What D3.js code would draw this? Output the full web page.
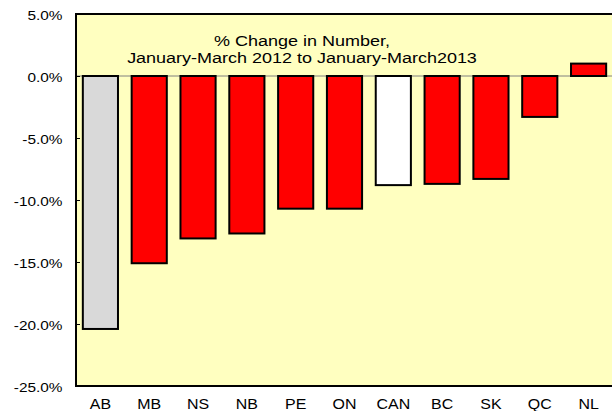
<!DOCTYPE html>
<html>
<head>
<meta charset="utf-8">
<script src="https://cdn.jsdelivr.net/npm/d3@7"></script>
<style>
  html, body { margin: 0; padding: 0; background: #fff; }
  svg { display: block; font-family: "Liberation Sans", Arial, sans-serif; }
</style>
</head>
<body>
<svg id="chart" width="612" height="411"></svg>
<script>
// provinces, ordered as in the chart
const categories = ['AB', 'MB', 'NS', 'NB', 'PE', 'ON', 'CAN', 'BC', 'SK', 'QC', 'NL'];
// % change in number, Jan-Mar 2012 to Jan-Mar 2013
const values = [-20.4, -15.1, -13.1, -12.7, -10.7, -10.7, -8.8, -8.7, -8.3, -3.3, 1.0];
const yTicks = [5, 0, -5, -10, -15, -20, -25];
const titleLines = ['% Change in Number,', 'January-March 2012 to January-March2013'];

const svg = d3.select('#chart');
const plotLeft = 76, plotTop = 14, plotRight = 613, plotBottom = 386;
// the original text is a bit wider than Liberation Sans
const stretch = 1.14;

const x = d3.scaleBand()
  .domain(categories)
  .range([plotLeft, plotRight])
  .paddingInner(0.28)
  .paddingOuter(0.14);

const y = d3.scaleLinear()
  .domain([-25, 5])
  .range([plotBottom, plotTop]);

function barFill(d) {
  if (d === 'AB') return '#d9d9d9';
  if (d === 'CAN') return '#ffffff';
  return '#ff0000';
}

// plain hyphen minus, like the original
const pct = (d) => d.toFixed(1) + '%';

// plot background
svg.append('rect')
  .attr('x', plotLeft).attr('y', plotTop)
  .attr('width', plotRight - plotLeft).attr('height', plotBottom - plotTop)
  .attr('fill', '#ffffc0');

// zero line
svg.append('line')
  .attr('x1', plotLeft).attr('x2', plotRight)
  .attr('y1', y(0)).attr('y2', y(0))
  .attr('stroke', '#808080').attr('stroke-width', 1);

// title inside the plot
svg.append('g')
  .attr('transform', 'translate(302,0) scale(1.2,1)')
  .append('text')
  .attr('text-anchor', 'middle')
  .attr('font-size', 15)
  .attr('fill', '#000')
  .selectAll('tspan')
  .data(titleLines)
  .enter()
  .append('tspan')
  .attr('x', 0)
  .attr('y', (d, i) => 45.7 + i * 17.6)
  .text((d) => d);

// bars
svg.append('g')
  .selectAll('rect')
  .data(categories)
  .enter()
  .append('rect')
  .attr('x', (d) => x(d))
  .attr('width', x.bandwidth())
  .attr('y', (d, i) => y(Math.max(0, values[i])))
  .attr('height', (d, i) => Math.abs(y(values[i]) - y(0)))
  .attr('fill', barFill)
  .attr('stroke', '#000')
  .attr('stroke-width', 2);

// y axis, ticks pointing inward
const yAxis = svg.append('g')
  .attr('transform', `translate(${plotLeft},0)`)
  .call(d3.axisRight(y).tickValues(yTicks).tickSize(4).tickFormat(() => ''));
yAxis.select('.domain').remove();
yAxis.selectAll('line').attr('stroke', '#000');

svg.append('g')
  .selectAll('text')
  .data(yTicks)
  .enter()
  .append('text')
  .attr('transform', (d) => `translate(62.5,${y(d) + 5.8}) scale(${stretch},1)`)
  .attr('text-anchor', 'end')
  .attr('font-size', 13.5)
  .text(pct);

// x labels
const xAxis = svg.append('g')
  .attr('transform', `translate(0,${plotBottom})`)
  .call(d3.axisBottom(x).tickSize(0));
xAxis.select('.domain').remove();
xAxis.selectAll('text')
  .attr('y', 23)
  .attr('dy', 0)
  .attr('transform', `scale(${stretch},1)`)
  .attr('font-size', 14)
  .attr('font-family', '"Liberation Sans", Arial, sans-serif')
  .attr('fill', '#000');

// frame: left, top, bottom
svg.append('path')
  .attr('d', `M${plotRight},${plotTop}H${plotLeft}V${plotBottom}H${plotRight}`)
  .attr('fill', 'none')
  .attr('stroke', '#000')
  .attr('stroke-width', 2);
</script>
</body>
</html>
